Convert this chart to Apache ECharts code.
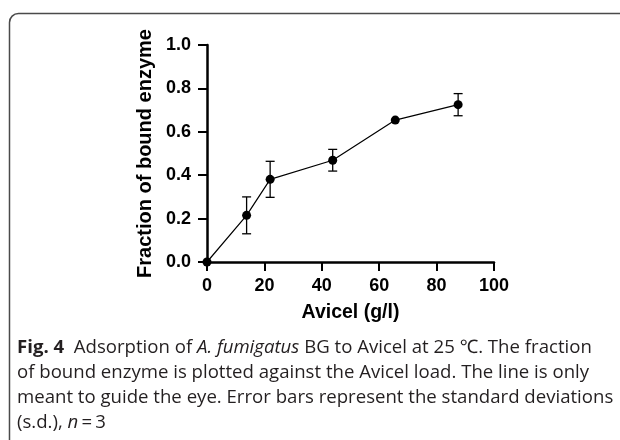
<!DOCTYPE html>
<html>
<head>
<meta charset="utf-8">
<script src="https://cdn.jsdelivr.net/npm/echarts@6/dist/echarts.min.js"></script>
<style>html,body{margin:0;padding:0;background:#fff;}#c{width:620px;height:440px;}</style>
</head>
<body>
<div id="c"></div>
<script>
// Data
var avicel = [0, 13.8, 22, 43.8, 65.6, 87.5];
var fraction = [0, 0.215, 0.381, 0.469, 0.654, 0.725];
var sdev = [0, 0.085, 0.083, 0.05, 0, 0.051];
var xTicks = [0, 20, 40, 60, 80, 100];
var yTicks = [0.0, 0.2, 0.4, 0.6, 0.8, 1.0];
var xTitle = 'Avicel (g/l)';
var yTitle = 'Fraction of bound enzyme';
var captionLines = [
  '{b|Fig. 4}  Adsorption of {i|A. fumigatus} BG to Avicel at 25 \u2103. The fraction',
  'of bound enzyme is plotted against the Avicel load. The line is only',
  'meant to guide the eye. Error bars represent the standard deviations',
  '(s.d.), {i|n}\u2009=\u20093'
];

var chart = echarts.init(document.getElementById('c'), null, {renderer: 'canvas'});
var pts = avicel.map(function (x, i) { return [x, fraction[i]]; });
var errData = avicel.map(function (x, i) { return [x, fraction[i] - sdev[i], fraction[i] + sdev[i]]; });

var capFont = '"Open Sans", "Noto Sans", sans-serif';
var capSize = 18.6;
var capBase = [353, 378, 403, 428];
var graphics = [{
  type: 'rect', silent: true,
  shape: {x: 9.5, y: 13.5, width: 700, height: 600, r: 9},
  style: {fill: 'none', stroke: '#4a4a4a', lineWidth: 1.5}
}];
captionLines.forEach(function (t, i) {
  graphics.push({
    type: 'text', left: 17, top: capBase[i] - 15, silent: true,
    style: {
      text: t, fill: '#231f20', font: capSize + 'px ' + capFont,
      rich: {
        b: {fontWeight: 'bold', fontSize: capSize, fontFamily: capFont, fill: '#231f20'},
        i: {fontStyle: 'italic', fontSize: capSize, fontFamily: capFont, fill: '#231f20'}
      }
    }
  });
});

var axisFont = '"Liberation Sans", Arial, sans-serif';
chart.setOption({
  animation: false,
  grid: {left: 207, right: 126, top: 45, bottom: 178, containLabel: false},
  xAxis: {
    type: 'value', min: xTicks[0], max: xTicks[xTicks.length - 1], interval: 20,
    name: xTitle, nameLocation: 'middle', nameGap: 41,
    nameTextStyle: {fontFamily: axisFont, fontWeight: 'bold', fontSize: 19.5, color: '#000'},
    axisLine: {lineStyle: {color: '#000', width: 2.5}},
    axisTick: {length: 9, lineStyle: {color: '#000', width: 2}},
    axisLabel: {margin: 15, fontFamily: axisFont, fontWeight: 'bold', fontSize: 18, color: '#000'},
    splitLine: {show: false}
  },
  yAxis: {
    type: 'value', min: yTicks[0], max: yTicks[yTicks.length - 1], interval: 0.2,
    name: yTitle, nameLocation: 'middle', nameGap: 52, nameRotate: 90,
    nameTextStyle: {fontFamily: axisFont, fontWeight: 'bold', fontSize: 20, color: '#000'},
    axisLine: {show: true, lineStyle: {color: '#000', width: 2.5}},
    axisTick: {show: true, length: 9, lineStyle: {color: '#000', width: 2}},
    axisLabel: {margin: 16, fontFamily: axisFont, fontWeight: 'bold', fontSize: 18, color: '#000',
      formatter: function (v) { return v.toFixed(1); }},
    splitLine: {show: false}
  },
  series: [{
    type: 'line', data: pts, symbol: 'circle', symbolSize: 9,
    lineStyle: {color: '#000', width: 1.2},
    itemStyle: {color: '#000'}, z: 3
  }, {
    type: 'custom', data: errData, z: 4,
    renderItem: function (params, api) {
      var x = api.value(0), lo = api.value(1), hi = api.value(2);
      if (hi - lo <= 0) return null;
      var p1 = api.coord([x, lo]), p2 = api.coord([x, hi]);
      var hw = 4.5;
      var st = {stroke: '#000', lineWidth: 1.3};
      return {type: 'group', children: [
        {type: 'line', shape: {x1: p1[0], y1: p1[1], x2: p2[0], y2: p2[1]}, style: st},
        {type: 'line', shape: {x1: p1[0] - hw, y1: p1[1], x2: p1[0] + hw, y2: p1[1]}, style: st},
        {type: 'line', shape: {x1: p2[0] - hw, y1: p2[1], x2: p2[0] + hw, y2: p2[1]}, style: st}
      ]};
    }
  }],
  graphic: graphics
});
</script>
</body>
</html>
